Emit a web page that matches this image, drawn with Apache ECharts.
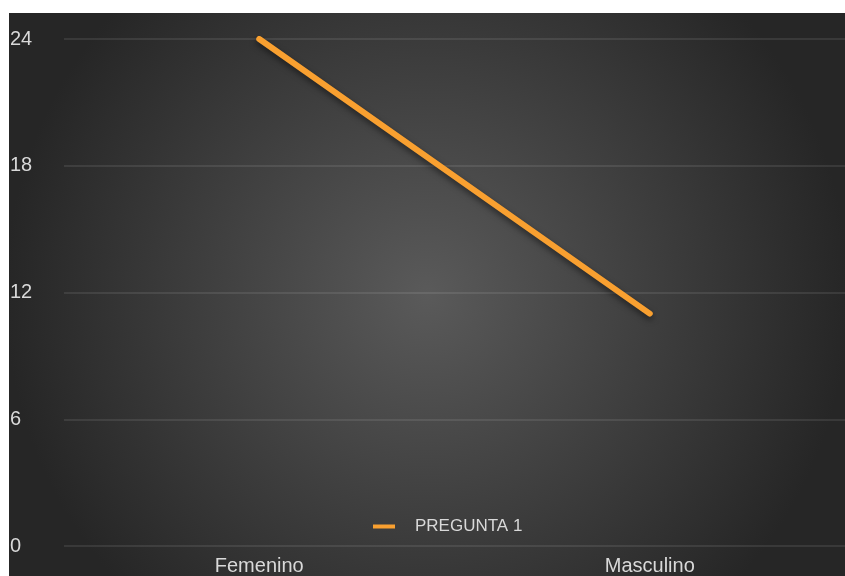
<!DOCTYPE html>
<html>
<head>
<meta charset="utf-8">
<script src="https://cdn.jsdelivr.net/npm/echarts@6/dist/echarts.min.js"></script>
<style>
html,body{margin:0;padding:0;background:#fff;}
#chart{width:845px;height:576px;}
</style>
</head>
<body>
<div id="chart"></div>
<script>
// datos de la grafica
var categorias = ['Femenino', 'Masculino'];
var pregunta1 = [24, 11];
var nombreSerie = 'PREGUNTA 1';

var chart = echarts.init(document.getElementById('chart'));

var option = {
    backgroundColor: '#ffffff',
    animation: false,
    textStyle: { fontFamily: 'Liberation Sans, Arial, sans-serif' },
    graphic: [{
        type: 'rect',
        z: -10,
        shape: { x: 9, y: 13, width: 836, height: 563 },
        style: {
            fill: {
                type: 'radial', x: 0.5, y: 0.5, r: 0.75,
                colorStops: [
                    { offset: 0, color: '#5a5a5a' },
                    { offset: 1, color: '#262626' }
                ]
            }
        },
        silent: true
    }],
    grid: { left: 64, right: -1, top: 39, bottom: 30 },
    legend: {
        left: 368, top: 513,
        icon: 'rect',
        itemWidth: 22, itemHeight: 4, itemGap: 10,
        textStyle: { color: '#d9d9d9', fontSize: 17, padding: [0, 0, 0, 15] },
        data: [{ name: nombreSerie, itemStyle: { color: '#f9a030' } }]
    },
    xAxis: {
        type: 'category',
        data: categorias,
        boundaryGap: true,
        axisLine: { show: false },
        axisTick: { show: false },
        axisLabel: { color: '#d9d9d9', fontSize: 20, margin: 10 }
    },
    yAxis: {
        type: 'value',
        min: 0, max: 24, interval: 6,
        axisLine: { show: false },
        axisTick: { show: false },
        axisLabel: { color: '#d9d9d9', fontSize: 20, align: 'left', margin: 54 },
        splitLine: { lineStyle: { color: 'rgba(255,255,255,0.09)', width: 2 } }
    },
    series: [{
        name: nombreSerie,
        type: 'line',
        data: pregunta1,
        symbol: 'none',
        lineStyle: {
            color: '#f9a030', width: 6, cap: 'round',
            shadowColor: 'rgba(0,0,0,0.5)', shadowBlur: 6, shadowOffsetY: 3
        },
        itemStyle: { color: '#f9a030' }
    }]
};

chart.setOption(option);
</script>
</body>
</html>
